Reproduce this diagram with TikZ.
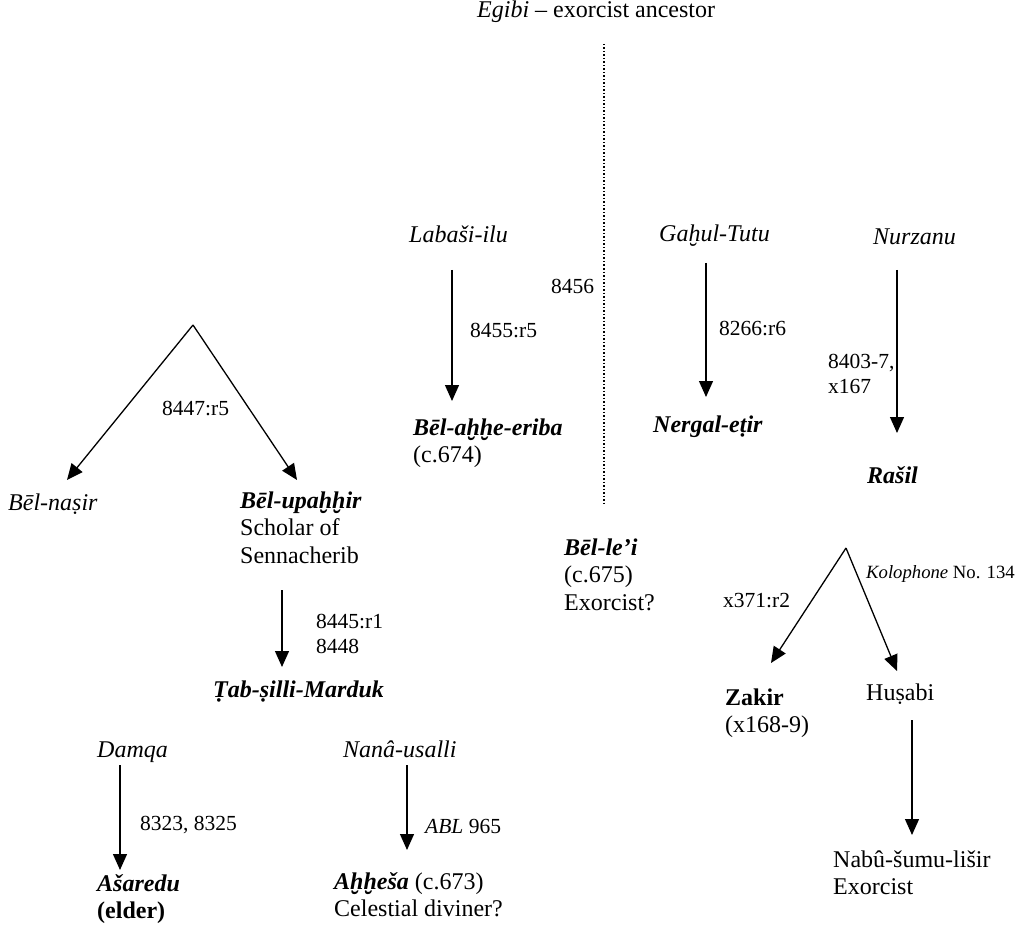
\documentclass[tikz,border=0pt]{standalone}
\usepackage{fontspec}
\setmainfont{Liberation Serif}
\usetikzlibrary{arrows.meta}
\begin{document}
\begin{tikzpicture}[x=1pt,y=-1pt,
  every node/.style={inner sep=0pt, font=\fontsize{24}{27.6}\selectfont},
  lbl/.style={anchor=base west, align=left},
  ref/.style={anchor=base west, align=left, font=\fontsize{21.5}{25}\selectfont},
  arr/.style={line width=1.3pt, -{Triangle[width=14pt,length=16pt]}},
  dots/.style={line width=1.5pt, dotted}]
\useasboundingbox (0,0) rectangle (1023,928);
% top
\node[lbl] (egibi) at (477,18) {\textit{Egibi} – exorcist ancestor};
\coordinate (dtop) at (604,44);
\coordinate (dbot) at (604,503);
\draw[dots] (dtop) -- (dbot);
% Labasi-ilu
\node[lbl] (labasi) at (409,243) {\textit{Labaši-ilu}};
\coordinate (a1s) at (452,270); \coordinate (a1e) at (452,401);
\draw[arr] (a1s) -- (a1e);
\node[ref] (r8455) at (470,337) {8455:r5};
\node[ref] (r8456) at (551,294) {8456};
\node[lbl] (belahhe) at (413,462.6) {\textbf{\textit{Bēl-aḫḫe-eriba}}\\(c.674)};
% Gahul-Tutu
\node[lbl] (gahul) at (659,242) {\textit{Gaḫul-Tutu}};
\coordinate (a2s) at (706,263); \coordinate (a2e) at (706,397);
\draw[arr] (a2s) -- (a2e);
\node[ref] (r8266) at (719,335) {8266:r6};
\node[lbl] (nergal) at (653,432) {\textbf{\textit{Nergal-eṭir}}};
% Nurzanu
\node[lbl] (nurzanu) at (873,245) {\textit{Nurzanu}};
\coordinate (a3s) at (897,270); \coordinate (a3e) at (897,433);
\draw[arr] (a3s) -- (a3e);
\node[ref] (r8403) at (828,393) {8403-7,\\x167};
\node[lbl] (rasil) at (867,483) {\textbf{\textit{Rašil}}};
% left tree
\coordinate (apexL) at (193,325);
\coordinate (tipL1) at (67,480);
\coordinate (tipL2) at (297,480);
\draw[arr] (apexL) -- (tipL1);
\draw[arr] (apexL) -- (tipL2);
\node[ref] (r8447) at (162,415) {8447:r5};
\node[lbl] (belnasir) at (8,510) {\textit{Bēl-naṣir}};
\node[lbl] (belupahhir) at (240,563.2) {\textbf{\textit{Bēl-upaḫḫir}}\\Scholar of\\Sennacherib};
\coordinate (a4s) at (282,590); \coordinate (a4e) at (282,667);
\draw[arr] (a4s) -- (a4e);
\node[ref] (r8445) at (316,653) {8445:r1\\8448};
\node[lbl] (tab) at (213,697) {\textbf{\textit{Ṭab-ṣilli-Marduk}}};
% Damqa
\node[lbl] (damqa) at (97,757) {\textit{Damqa}};
\coordinate (a5s) at (120,765); \coordinate (a5e) at (120,870);
\draw[arr] (a5s) -- (a5e);
\node[ref] (r8323) at (140,830) {8323, 8325};
\node[lbl] (asaredu) at (97,918.6) {\textbf{\textit{Ašaredu}}\\\textbf{(elder)}};
% Nana-usalli
\node[lbl] (nana) at (343,757) {\textit{Nanâ-usalli}};
\coordinate (a6s) at (407,765); \coordinate (a6e) at (407,850);
\draw[arr] (a6s) -- (a6e);
\node[ref] (abl) at (425,833) {\textit{ABL} 965};
\node[lbl] (ahhesa) at (334,916.6) {\textbf{\textit{Aḫḫeša}} (c.673)\\Celestial diviner?};
% Bel-le'i
\node[lbl] (belle) at (564,610.2) {\textbf{\textit{Bēl-le’i}}\\(c.675)\\Exorcist?};
% right tree
\coordinate (apexR) at (846,548);
\coordinate (tipR1) at (771,663);
\coordinate (tipR2) at (897,671);
\draw[arr] (apexR) -- (tipR1);
\draw[arr] (apexR) -- (tipR2);
\node[ref] (x371) at (723,607) {x371:r2};
\node[ref, font=\fontsize{18.7}{21}\selectfont] (kolo) at (866,578) {\textit{Kolophone} No. 134};
\node[lbl] (zakir) at (725,732.6) {\textbf{Zakir}\\(x168-9)};
\node[lbl] (husabi) at (866,700) {Huṣabi};
\coordinate (a7s) at (912,720); \coordinate (a7e) at (912,835);
\draw[arr] (a7s) -- (a7e);
\node[lbl] (nabu) at (833,894.6) {Nabû-šumu-lišir\\Exorcist};
\end{tikzpicture}
\end{document}
